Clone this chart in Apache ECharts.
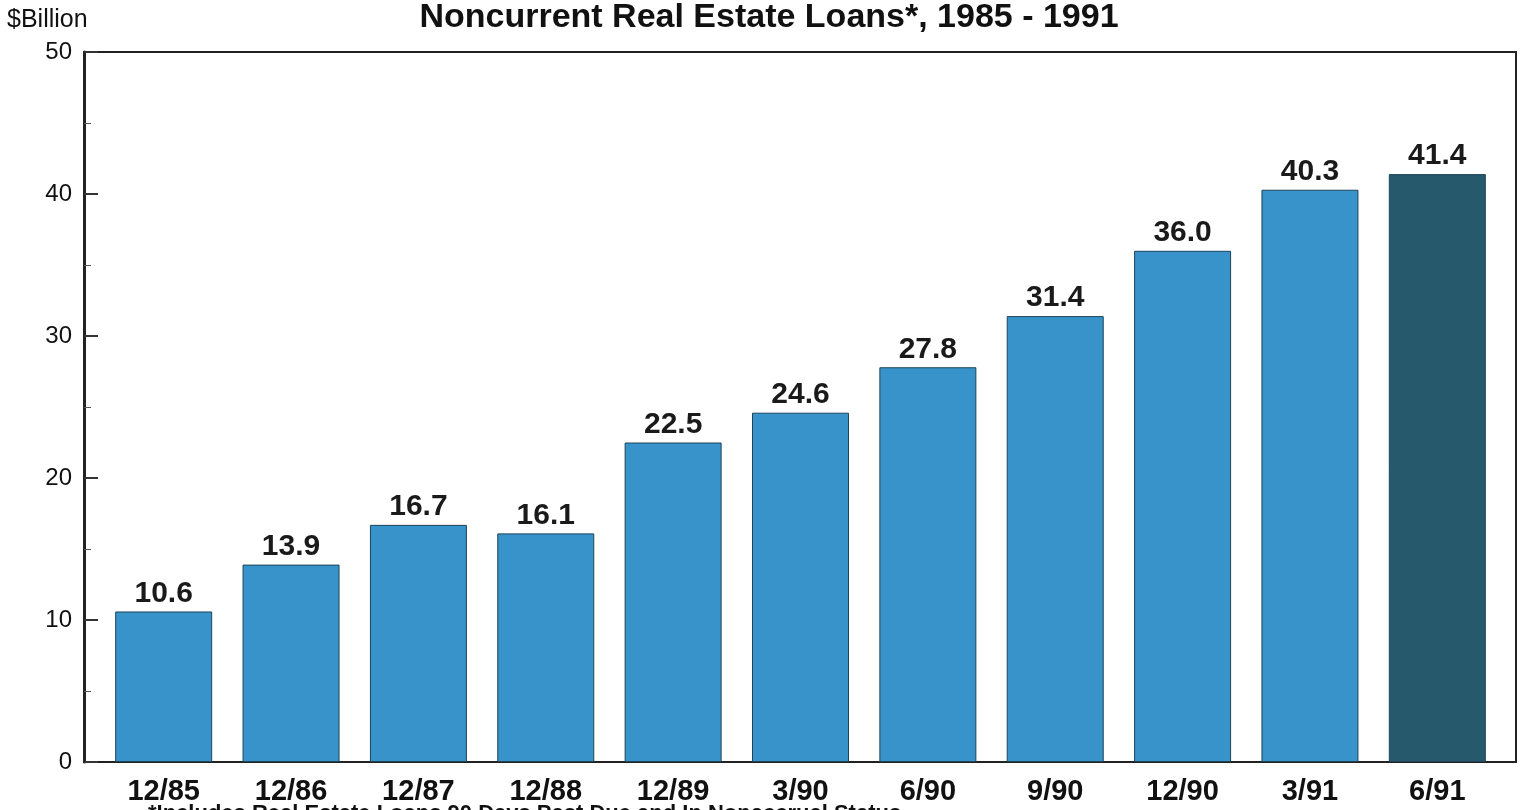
<!DOCTYPE html>
<html>
<head>
<meta charset="utf-8">
<title>Noncurrent Real Estate Loans</title>
<script src="https://cdn.jsdelivr.net/npm/echarts@6/dist/echarts.min.js"></script>
<style>
  html, body { margin: 0; padding: 0; background: #fff; }
  #main { width: 1525px; height: 810px; }
</style>
</head>
<body>
<div id="main"></div>
<script>
    // quarters / year-ends
    const categories = ['12/85', '12/86', '12/87', '12/88', '12/89', '3/90', '6/90', '9/90', '12/90', '3/91', '6/91']
    // $ billion
    const loans = [10.6, 13.9, 16.7, 16.1, 22.5, 24.6, 27.8, 31.4, 36.0, 40.3, 41.4]
    const yTicks = [0, 10, 20, 30, 40, 50]

    const barColor = '#3893ca'
    const lastColor = '#25596b'
    const font = '"Liberation Sans", Arial, sans-serif'

    const chart = echarts.init(document.getElementById('main'))

    const barData = loans.map(function (v, i) {
        return {
            value: v,
            itemStyle: {
                color: i === loans.length - 1 ? lastColor : barColor
            }
        }
    })

    chart.setOption({
        animation: false,
        backgroundColor: '#fff',
        title: {
            text: 'Noncurrent Real Estate Loans*, 1985 - 1991',
            left: 764,
            top: -4,
            textAlign: 'center',
            textStyle: {
                fontFamily: font,
                fontSize: 34,
                fontWeight: 'bold',
                color: '#111'
            }
        },
        graphic: [
            {
                type: 'text',
                left: 7,
                top: 8,
                style: {
                    text: '$Billion',
                    font: '25px ' + font,
                    fill: '#111'
                }
            },
            {
                type: 'text',
                left: 148,
                top: 803,
                style: {
                    text: '*Includes Real Estate Loans 90 Days Past Due and In Nonaccrual Status',
                    font: 'bold 22px ' + font,
                    fill: '#111'
                }
            }
        ],
        grid: [
            // frame + y scale
            {left: 84, right: 9, top: 52, bottom: 48, show: true, borderColor: '#222', borderWidth: 2, backgroundColor: 'transparent'},
            // bars
            {left: 100, right: 24, top: 52, bottom: 48}
        ],
        xAxis: [
            {gridIndex: 0, type: 'value', show: false, min: 0, max: 1},
            {
                gridIndex: 1,
                type: 'category',
                data: categories,
                axisLine: {show: false},
                axisTick: {show: false},
                axisLabel: {
                    margin: 15,
                    fontFamily: font,
                    fontSize: 29,
                    fontWeight: 'bold',
                    color: '#111'
                }
            }
        ],
        yAxis: [
            {
                gridIndex: 0,
                type: 'value',
                min: yTicks[0],
                max: yTicks[yTicks.length - 1],
                interval: 10,
                axisLine: {show: true, lineStyle: {color: '#222', width: 3}},
                axisTick: {show: true, inside: true, length: 14, lineStyle: {color: '#333', width: 2}},
                minorTick: {show: true, splitNumber: 2, length: 7, lineStyle: {color: '#555', width: 1}},
                splitLine: {show: false},
                axisLabel: {
                    margin: 12,
                    fontFamily: font,
                    fontSize: 24,
                    color: '#111'
                }
            },
            {gridIndex: 1, type: 'value', min: 0, max: 50, show: false}
        ],
        series: [{
            name: 'Noncurrent Real Estate Loans',
            type: 'bar',
            xAxisIndex: 1,
            yAxisIndex: 1,
            barWidth: 97,
            data: barData,
            itemStyle: {
                borderColor: '#1d4459',
                borderWidth: 1
            },
            label: {
                show: true,
                position: 'top',
                distance: 3,
                fontFamily: font,
                fontSize: 30,
                fontWeight: 'bold',
                color: '#1a1a1a',
                formatter: function (p) {
                    return p.value.toFixed(1)
                }
            }
        }]
    })
</script>
</body>
</html>
